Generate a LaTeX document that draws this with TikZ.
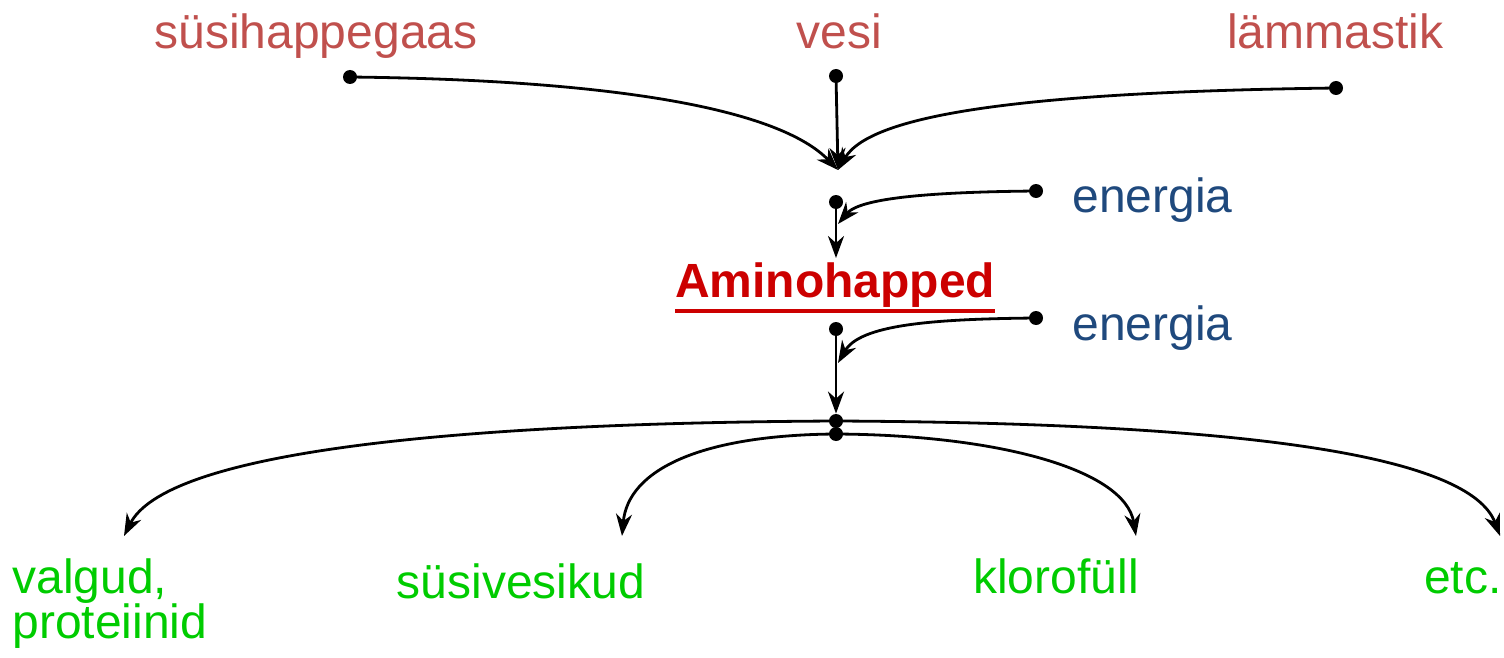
\documentclass[tikz,border=0pt]{standalone}
\usepackage{fontspec}
\setmainfont{Liberation Sans}
\usetikzlibrary{arrows.meta}
\definecolor{inred}{HTML}{C0504D}
\definecolor{enblue}{HTML}{1F497D}
\definecolor{amred}{HTML}{CC0000}
\definecolor{outgreen}{HTML}{00CC00}
\newcommand{\thickul}[1]{\setbox0=\hbox{#1}\vtop{\copy0\kern0.8pt\hrule height 2pt width \wd0}}
\begin{document}
\begin{tikzpicture}[x=0.5pt,y=-0.5pt,
  dot/.style={circle,fill=black,inner sep=0pt,minimum size=7pt},
  conn/.style={line width=1.4pt,-{Stealth[length=11pt,width=8pt,inset=3.5pt]}},
  txt/.style={font=\fontsize{24}{22.5}\selectfont,inner sep=0pt,anchor=base},
  intxt/.style={txt,text=inred},
  entxt/.style={txt,text=enblue,anchor=base west},
  outtxt/.style={txt,text=outgreen}]
\useasboundingbox (0,0) rectangle (1504,658);
% input labels
\node[intxt] (tco) at (316,49) {süsihappegaas};
\node[intxt] (tve) at (839,49) {vesi};
\node[intxt] (tla) at (1335,49) {lämmastik};
% input dots
\node[dot] (dco) at (350,77) {};
\node[dot] (dve) at (836,76) {};
\node[dot] (dla) at (1336,88) {};
\coordinate (m0) at (838,170);
\draw[conn] (dco.center) .. controls (620,80) and (780,110) .. (m0);
\draw[conn] (dla.center) .. controls (1020,92) and (870,115) .. (m0);
\draw[conn] (dve.center) -- (m0);
% first energy
\node[dot] (d2) at (836,202) {};
\coordinate (a2) at (836,258);
\draw[conn] (d2.center) -- (a2);
\node[dot] (de1) at (1036,191) {};
\node[entxt] (te1) at (1072,213) {energia};
\coordinate (m1) at (838,224);
\draw[conn] (de1.center) .. controls (930,192) and (860,198) .. (m1);
% central label
\node[txt,font=\fontsize{24}{22.5}\selectfont\bfseries] (am) at (835,297) {\color{amred}\thickul{Aminohapped}};
% second energy
\node[dot] (d3) at (836,329) {};
\node[dot] (de2) at (1036,318) {};
\node[entxt] (te2) at (1072,340) {energia};
\coordinate (m2) at (838,363);
\draw[conn] (de2.center) .. controls (930,319) and (860,325) .. (m2);
\node[dot] (d4) at (836,421) {};
\node[dot] (d5) at (836,434) {};
\draw[conn] (d3.center) -- (d4.north);
% outputs
\coordinate (o1) at (124,536);
\coordinate (o2) at (622,536);
\coordinate (o3) at (1136,536);
\coordinate (o4) at (1500,536);
\draw[conn] (d4.center) .. controls (430,423) and (165,455) .. (o1);
\draw[conn] (d4.center) .. controls (1245,423) and (1470,455) .. (o4);
\draw[conn] (d5.center) .. controls (700,435) and (628,470) .. (o2);
\draw[conn] (d5.center) .. controls (1000,435) and (1125,470) .. (o3);
% output labels
\node[outtxt,anchor=base west] (t1a) at (12,593) {valgud,};
\node[outtxt,anchor=base west] (t1b) at (12,638) {proteiinid};
\node[outtxt] (t2) at (521,598) {süsivesikud};
\node[outtxt] (t3) at (1056,593) {klorofüll};
\node[outtxt,anchor=base east] (t4) at (1502,593) {etc.};
\end{tikzpicture}
\end{document}
